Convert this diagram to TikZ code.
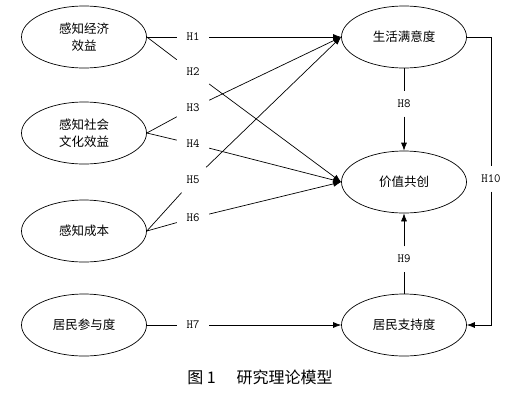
\documentclass[tikz,border=0pt]{standalone}
\usepackage{fontspec}
\newfontfamily\cjk{Noto Sans CJK SC}
\usetikzlibrary{arrows.meta,shapes.geometric}
\begin{document}
\begin{tikzpicture}[x=1pt,y=-1pt,
  ell/.style={draw, ellipse, minimum width=125pt, minimum height=62pt, inner sep=0pt,
    font=\cjk\fontsize{12.5}{17}\selectfont, align=center, line width=0.7pt},
  lab/.style={font=\ttfamily\fontsize{12.5}{13}\selectfont, inner sep=0pt,
    minimum width=32pt, minimum height=25pt},
  con/.style={line width=0.7pt},
  arr/.style={con, -{Latex[length=8pt,width=6pt]}}]
\useasboundingbox (0,0) rectangle (513,402);
% ellipses
\node[ell] (a) at (84,37) {感知经济\\效益};
\node[ell] (b) at (84,133) {感知社会\\文化效益};
\node[ell] (c) at (84,231) {感知成本};
\node[ell] (d) at (84,325) {居民参与度};
\node[ell] (s) at (404,37) {生活满意度};
\node[ell] (v) at (404,182) {价值共创};
\node[ell] (r) at (404,325) {居民支持度};
% labels
\node[lab] (h1) at (193,37) {H1};
\node[lab] (h2) at (193,72) {H2};
\node[lab] (h3) at (193,108) {H3};
\node[lab] (h4) at (193,144) {H4};
\node[lab] (h5) at (193,180) {H5};
\node[lab] (h6) at (193,218) {H6};
\node[lab] (h7) at (193,325) {H7};
\node[lab] (h8) at (404,104) {H8};
\node[lab] (h9) at (404,259) {H9};
\node[lab] (h10) at (491,179) {H10};
% connectors
\draw[con] (a.east) -- (h1);  \draw[arr] (h1) -- (s.west);
\draw[con] (a.east) -- (h2);  \draw[arr] (h2) -- (v.west);
\draw[con] (b.east) -- (h3);  \draw[arr] (h3) -- (s.west);
\draw[con] (b.east) -- (h4);  \draw[arr] (h4) -- (v.west);
\draw[con] (c.east) -- (h5);  \draw[arr] (h5) -- (s.west);
\draw[con] (c.east) -- (h6);  \draw[arr] (h6) -- (v.west);
\draw[con] (d.east) -- (h7);  \draw[arr] (h7) -- (r.west);
\draw[con] (s.south) -- (h8); \draw[arr] (h8) -- (v.north);
\draw[con] (r.north) -- (h9); \draw[arr] (h9) -- (v.south);
\draw[con] (s.east) -| (h10); \draw[arr] (h10) |- (r.east);
% caption
\node[font=\cjk\fontsize{16}{19}\selectfont, inner sep=0pt] (cap) at (260,377) {图~1\hspace{1.3em}研究理论模型};
\end{tikzpicture}
\end{document}
